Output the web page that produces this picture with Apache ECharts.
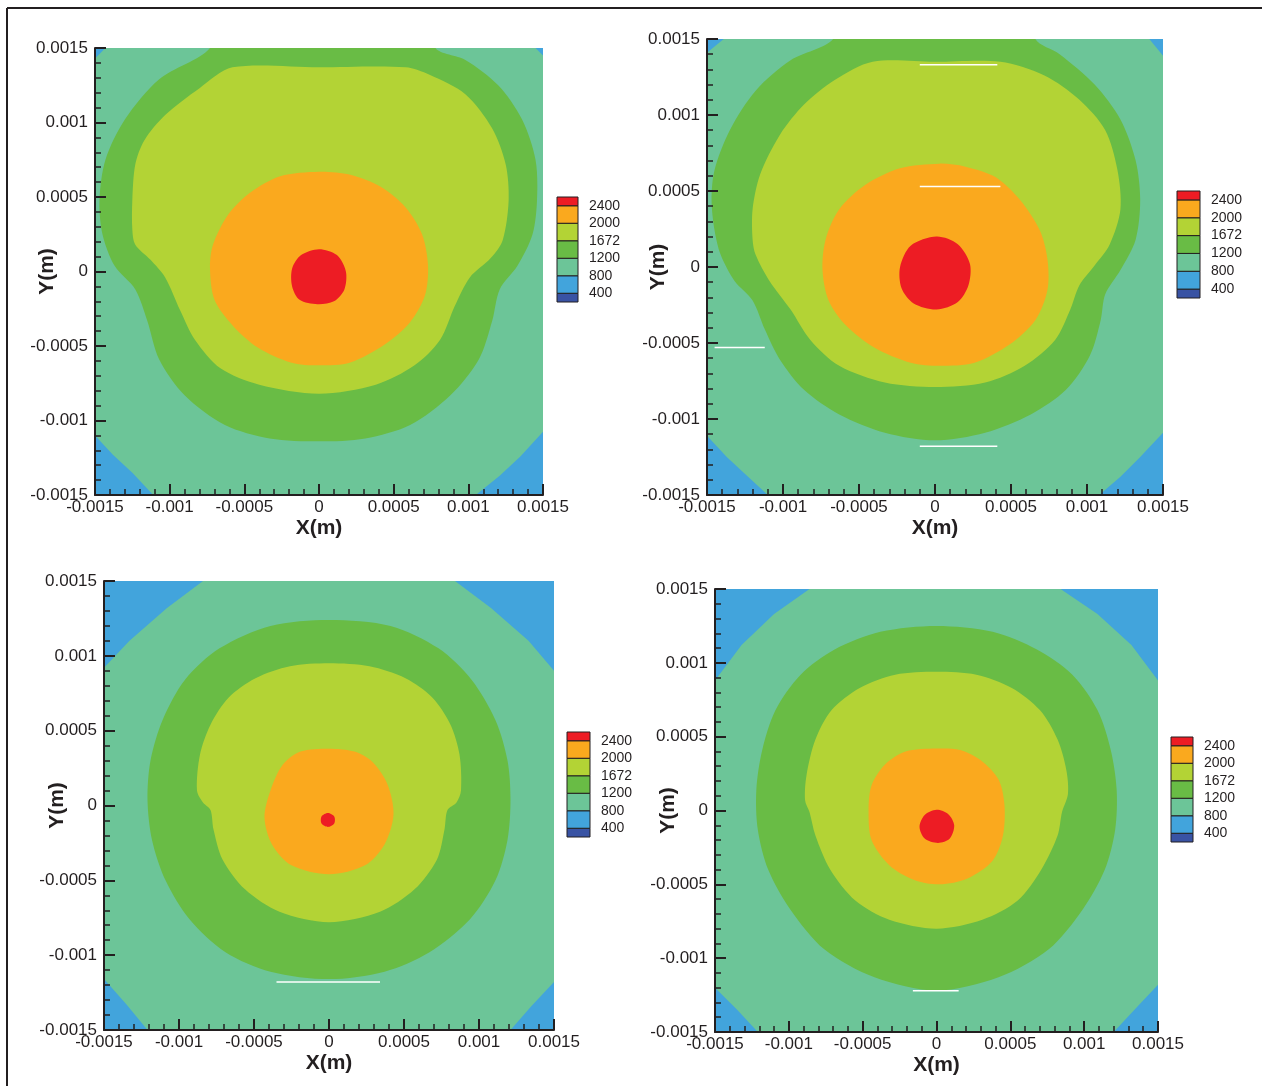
<!DOCTYPE html>
<html><head><meta charset="utf-8">
<script src="https://cdn.jsdelivr.net/npm/echarts@6/dist/echarts.min.js"></script>
<style>html,body{margin:0;padding:0;background:#fff}#c{width:1262px;height:1086px}</style>
</head><body><div id="c"></div><script>
// Coordinates in units of 1e-4 m; tick labels shown in metres
const tickValues = [-15,-10,-5,0,5,10,15];
const tickLabels = ['-0.0015','-0.001','-0.0005','0','0.0005','0.001','0.0015'];
const levelLabels = ['400','800','1200','1672','2000','2400'];
const levelColors = ['#3953A4','#42A4DC','#6CC598','#69BC45','#B3D335','#FAA91E','#ED1C24'];
const legendBoxes = [[-0.5,0],[0,1],[1,2],[2,3],[3,4],[4,5],[5,5.5]];

// ---- Panel 1 ----
const p1Blue = [
  [[-15,15],[-15,14.3],[-14.3,15]],
  [[15,15],[14.5,15],[15,14.5]],
  [[-15,-11.0],[-13.8,-12.3],[-12.5,-13.5],[-11.1,-15],[-15,-15]],
  [[15,-10.75],[13.5,-12.4],[12.1,-13.7],[10.5,-15],[15,-15]]
];
const p1Green = [[-7.3,17],[-7.3,15],[-10.7,12.9],[-13.0,10.2],[-14.3,7.5],[-14.7,4.8],[-14.5,2.5],[-13.7,0.4],[-12.3,-1.2],[-11.5,-3.3],[-10.7,-5.9],[-9.0,-8.3],[-6.3,-10.3],[-3.3,-11.2],[0,-11.4],[3.1,-11.2],[6.1,-10.3],[8.8,-8.3],[10.7,-5.9],[11.6,-3.3],[12.1,-1.2],[13.3,0.4],[14.3,2.5],[14.6,4.8],[14.5,7.5],[13.6,10.2],[12.0,12.5],[9.8,14.2],[7.8,15],[7.8,17]];
const p1Yellow = [[0,13.7],[-5.8,13.7],[-8.0,12.3],[-10.3,10.5],[-11.7,8.8],[-12.3,7.2],[-12.5,4.8],[-12.5,2.8],[-12.3,1.8],[-11.3,0.8],[-10.3,-0.4],[-9.3,-2.6],[-8.3,-4.6],[-6.6,-6.5],[-4.0,-7.6],[0,-8.2],[3.8,-7.6],[6.4,-6.3],[8.1,-4.6],[9.1,-2.3],[10.1,-0.4],[11.5,0.9],[12.3,2.1],[12.7,4.8],[12.5,7.2],[11.6,9.6],[9.8,11.9],[7.4,13.2],[5.8,13.7]];
const p1Orange = [[0,6.7],[-2.6,6.4],[-4.6,5.3],[-6.1,3.8],[-7.1,1.8],[-7.3,0.2],[-7.0,-1.9],[-5.8,-3.6],[-4.1,-5.1],[-1.9,-6.1],[0,-6.3],[2.1,-6.1],[4.4,-4.9],[6.1,-3.4],[7.1,-1.6],[7.3,0.4],[6.9,2.5],[5.8,4.3],[4.1,5.7],[2.1,6.5]];
const p1Red = [[0,1.5],[1.2,1.1],[1.8,0],[1.7,-1.2],[1.0,-2.0],[-0.1,-2.2],[-1.3,-1.9],[-1.8,-1.0],[-1.8,0.2],[-1.2,1.1]];
const p1White = [];

// ---- Panel 2 ----
const p2Blue = [
  [[-15,15],[-15,14.1],[-13.9,15]],
  [[15,15],[14.1,15],[15,13.9]],
  [[-15,-11.1],[-13.7,-12.5],[-12.3,-13.8],[-11.0,-15],[-15,-15]],
  [[15,-10.9],[13.5,-12.5],[12.2,-13.8],[10.8,-15],[15,-15]]
];
const p2Green = [[-6.7,17],[-6.7,15],[-9.5,13.6],[-11.8,11.6],[-13.5,9.0],[-14.5,6.4],[-14.7,4.4],[-14.5,2.4],[-14.1,0.8],[-13.2,-0.9],[-12.0,-2.2],[-11.2,-4.1],[-10.2,-6.1],[-8.6,-8.1],[-6.3,-9.7],[-3.3,-10.9],[0,-11.4],[3.3,-10.9],[6.3,-9.7],[8.6,-8.1],[10.2,-5.8],[10.9,-3.5],[11.2,-1.8],[12.2,-0.2],[13.2,1.8],[13.5,4.4],[13.2,7.0],[12.2,9.7],[10.5,12.0],[8.2,14.0],[6.6,15],[6.6,17]];
const p2Yellow = [[0,13.5],[-4.1,13.5],[-6.6,12.3],[-8.6,10.7],[-10.2,8.7],[-11.5,6.1],[-12.0,3.8],[-12.0,1.8],[-11.8,0.8],[-10.9,-0.9],[-9.5,-2.8],[-8.2,-4.8],[-6.3,-6.5],[-3.3,-7.6],[0,-7.9],[3.3,-7.6],[5.9,-6.5],[7.9,-4.8],[8.9,-2.8],[9.5,-1.2],[10.5,0.1],[11.5,1.5],[12.2,3.8],[12.0,6.4],[11.2,9.0],[9.5,11.0],[7.2,12.6],[4.3,13.5]];
const p2Orange = [[0.3,6.8],[-2.3,6.5],[-4.6,5.4],[-6.3,3.8],[-7.2,1.8],[-7.4,-0.2],[-7.0,-2.2],[-5.9,-3.8],[-4.0,-5.3],[-1.6,-6.3],[0.3,-6.5],[2.6,-6.3],[4.9,-5.1],[6.6,-3.5],[7.4,-1.5],[7.4,0.5],[6.9,2.4],[5.6,4.4],[4.0,5.9],[2.0,6.6]];
const p2Red = [[0.1,2.0],[1.5,1.5],[2.3,0.2],[2.2,-1.2],[1.5,-2.3],[0.1,-2.8],[-1.4,-2.4],[-2.2,-1.4],[-2.3,0],[-1.6,1.4]];
const p2White = [[-1.0,13.3,4.1,13.3],[-1.0,5.3,4.3,5.3],[-14.5,-5.3,-11.2,-5.3],[-1.0,-11.8,4.1,-11.8]];

// ---- Panel 3 ----
const p3Blue = [
  [[-15,15],[-15,9.2],[-13.3,11.0],[-10.8,13.2],[-8.4,15]],
  [[15,15],[15,9.0],[13.3,11.0],[10.8,13.2],[8.4,15]],
  [[-15,-11.6],[-13.5,-13.3],[-12.1,-15],[-15,-15]],
  [[15,-11.8],[13.5,-13.4],[12.1,-15],[15,-15]]
];
const p3Green = [[0,12.4],[-3.9,12.0],[-7.3,10.5],[-9.6,8.4],[-11.1,5.7],[-11.9,3.0],[-12.1,0.4],[-11.8,-2.3],[-10.9,-5.0],[-9.3,-7.6],[-6.9,-9.8],[-3.9,-11.1],[0,-11.6],[3.7,-11.1],[6.7,-9.8],[9.4,-7.6],[11.1,-5.0],[11.9,-2.3],[12.1,0.4],[11.9,3.0],[11.1,5.7],[9.5,8.4],[7.3,10.5],[4.1,12.0]];
const p3Yellow = [[0,9.5],[-2.6,9.3],[-4.9,8.5],[-6.7,7.2],[-7.9,5.4],[-8.6,3.4],[-8.8,1.0],[-8.4,0.2],[-7.9,-0.3],[-7.7,-1.6],[-7.1,-3.6],[-5.6,-5.6],[-3.3,-7.1],[0,-7.8],[3.4,-7.1],[5.7,-5.6],[7.2,-3.6],[7.7,-1.6],[7.9,-0.3],[8.5,0.2],[8.8,1.0],[8.7,3.4],[8.1,5.4],[6.9,7.2],[5.1,8.5],[2.7,9.3]];
const p3Orange = [[0,3.8],[-1.9,3.6],[-3.1,2.7],[-3.9,1.0],[-4.3,-0.8],[-3.8,-2.6],[-2.5,-4.0],[0,-4.6],[2.4,-4.0],[3.7,-2.6],[4.3,-0.6],[3.9,1.4],[2.9,2.9],[1.7,3.6]];
const p3Red = [[-0.07,-0.5],[0.35,-0.73],[0.35,-1.2],[-0.07,-1.43],[-0.5,-1.2],[-0.5,-0.73]];
const p3White = [[-3.5,-11.8,3.4,-11.8]];

// ---- Panel 4 ----
const p4Blue = [
  [[-15,15],[-15,8.8],[-13.2,11.2],[-11.0,13.3],[-8.6,15]],
  [[15,15],[15,8.8],[13.2,11.2],[10.9,13.3],[8.4,15]],
  [[-15,-12.0],[-13.5,-13.5],[-12.1,-15],[-15,-15]],
  [[15,-11.8],[13.5,-13.4],[12.0,-15],[15,-15]]
];
const p4Green = [[0,12.5],[-3.8,12.1],[-6.9,10.9],[-9.2,9.2],[-10.9,6.8],[-11.8,4.1],[-12.2,1.4],[-12.1,-1.3],[-11.4,-4.0],[-9.9,-6.7],[-7.6,-9.4],[-4.2,-11.3],[0,-12.2],[4.2,-11.3],[7.6,-9.4],[9.9,-6.7],[11.4,-4.0],[12.1,-1.3],[12.2,1.4],[11.8,4.1],[10.9,6.8],[9.2,9.2],[6.8,10.9],[3.8,12.1]];
const p4Yellow = [[0,9.4],[-2.8,9.2],[-5.2,8.3],[-7.1,6.8],[-8.2,4.8],[-8.8,2.4],[-8.9,0.7],[-8.6,-0.1],[-8.2,-1.7],[-7.2,-4.0],[-5.5,-6.1],[-3.2,-7.4],[0,-8.0],[3.1,-7.4],[5.5,-6.1],[7.1,-4.0],[8.2,-1.7],[8.5,-0.1],[8.9,1.1],[8.8,2.7],[8.2,4.8],[7.0,6.8],[5.1,8.3],[2.7,9.2]];
const p4Orange = [[0,4.2],[-2.1,4.0],[-3.5,3.1],[-4.4,1.7],[-4.6,0],[-4.4,-2.0],[-3.2,-3.7],[-1.5,-4.7],[0.2,-5.0],[2.1,-4.6],[3.8,-3.4],[4.5,-1.7],[4.6,0.4],[4.2,2.1],[3.0,3.4],[1.6,4.1]];
const p4Red = [[0,0.05],[0.8,-0.25],[1.2,-1.0],[0.9,-1.9],[0.1,-2.2],[-0.8,-1.9],[-1.15,-1.1],[-0.8,-0.3]];
const p4White = [[-1.6,-12.2,1.5,-12.2]];

const panels = [
  {grid:{left:95,top:48,width:448,height:447}, nameGapY:37, legend:{left:557,top:197,width:21,height:105},
   blue:p1Blue, green:p1Green, yellow:p1Yellow, orange:p1Orange, red:p1Red, white:p1White},
  {grid:{left:707,top:39,width:456,height:456}, nameGapY:38, legend:{left:1177,top:191,width:23,height:107},
   blue:p2Blue, green:p2Green, yellow:p2Yellow, orange:p2Orange, red:p2Red, white:p2White},
  {grid:{left:104,top:581,width:450,height:449}, nameGapY:36, legend:{left:567,top:732,width:23,height:105},
   blue:p3Blue, green:p3Green, yellow:p3Yellow, orange:p3Orange, red:p3Red, white:p3White},
  {grid:{left:715,top:589,width:443,height:443}, nameGapY:36, legend:{left:1171,top:737,width:22,height:105},
   blue:p4Blue, green:p4Green, yellow:p4Yellow, orange:p4Orange, red:p4Red, white:p4White}
];

const INK = '#231F20';
const FONT = 'Liberation Sans, Arial, Helvetica, sans-serif';
const grids = [], xAxes = [], yAxes = [], series = [];

panels.forEach((p, i) => {
  grids.push(Object.assign({show:true, backgroundColor:levelColors[2], borderWidth:0}, p.grid));
  const common = {
    gridIndex:i, type:'value', min:-15, max:15, interval:5, z:10,
    axisLine:{onZero:false, lineStyle:{color:INK, width:2}},
    axisTick:{inside:true, length:11, lineStyle:{color:INK, width:2}},
    minorTick:{show:true, splitNumber:5, length:6, lineStyle:{color:INK, width:1.5}},
    splitLine:{show:false},
    axisLabel:{fontSize:17, color:INK, fontFamily:FONT, showMinLabel:true, showMaxLabel:true, hideOverlap:false,
      formatter:v => tickLabels[tickValues.indexOf(Math.round(v))]},
    nameLocation:'middle', nameMoveOverlap:false,
    nameTextStyle:{fontSize:21, fontWeight:'bold', color:INK, fontFamily:FONT}
  };
  xAxes.push(Object.assign({}, common, {position:'bottom', name:'X(m)', nameGap:23,
    axisLabel:Object.assign({}, common.axisLabel, {margin:4})}));
  yAxes.push(Object.assign({}, common, {position:'left', name:'Y(m)', nameGap:p.nameGapY,
    axisLabel:Object.assign({}, common.axisLabel, {margin:7})}));

  const shapes = [];
  p.blue.forEach(poly => shapes.push({c:levelColors[1], p:poly, s:0}));
  shapes.push({c:levelColors[3], p:p.green, s:0.3});
  shapes.push({c:levelColors[4], p:p.yellow, s:0.3});
  shapes.push({c:levelColors[5], p:p.orange, s:0.3});
  shapes.push({c:levelColors[6], p:p.red, s:0.3});
  series.push({
    type:'custom', xAxisIndex:i, yAxisIndex:i, clip:true, silent:true, z:2,
    data: shapes.map((s, k) => [k, 0]),
    renderItem: (params, api) => {
      const s = shapes[params.dataIndex];
      return {type:'polygon', shape:{points:s.p.map(q => api.coord(q)), smooth:s.s},
        style:{fill:s.c, stroke:null}};
    }
  });
  series.push({
    type:'custom', xAxisIndex:i, yAxisIndex:i, clip:true, silent:true, z:3,
    data: p.white,
    renderItem: (params, api) => {
      const a = api.coord([api.value(0), api.value(1)]), b = api.coord([api.value(2), api.value(3)]);
      return {type:'line', shape:{x1:a[0], y1:a[1], x2:b[0], y2:b[1]},
        style:{stroke:'#ffffff', lineWidth:1.5}};
    }
  });
});

// colour bars
panels.forEach((p, i) => {
  const gi = 4 + i;
  grids.push(Object.assign({show:false}, p.legend));
  xAxes.push({gridIndex:gi, type:'value', min:0, max:1, show:false});
  yAxes.push({gridIndex:gi, type:'value', min:-0.5, max:5.5, position:'right',
    axisLine:{show:false}, axisTick:{show:false}, splitLine:{show:false},
    axisLabel:{customValues:[0,1,2,3,4,5], margin:11, fontSize:14, color:INK, fontFamily:FONT,
      padding:[4,0,0,0], formatter:v => levelLabels[Math.round(v)]}});
  series.push({
    type:'custom', xAxisIndex:gi, yAxisIndex:gi, silent:true,
    data: legendBoxes.map((b, k) => [k, b[0], b[1]]),
    renderItem: (params, api) => {
      const k = params.dataIndex, b = legendBoxes[k];
      const a = api.coord([0, b[1]]), c = api.coord([1, b[0]]);
      return {type:'rect', shape:{x:a[0], y:a[1], width:c[0]-a[0], height:c[1]-a[1]},
        style:{fill:levelColors[k], stroke:INK, lineWidth:1}};
    }
  });
});

const chart = echarts.init(document.getElementById('c'), null, {renderer:'canvas'});
chart.setOption({
  animation:false,
  backgroundColor:'#ffffff',
  grid:grids, xAxis:xAxes, yAxis:yAxes, series:series,
  graphic:[
    {type:'line', shape:{x1:7, y1:8, x2:1262, y2:8}, style:{stroke:INK, lineWidth:2}},
    {type:'line', shape:{x1:7, y1:8, x2:7, y2:1086}, style:{stroke:INK, lineWidth:2}}
  ]
});
</script></body></html>
